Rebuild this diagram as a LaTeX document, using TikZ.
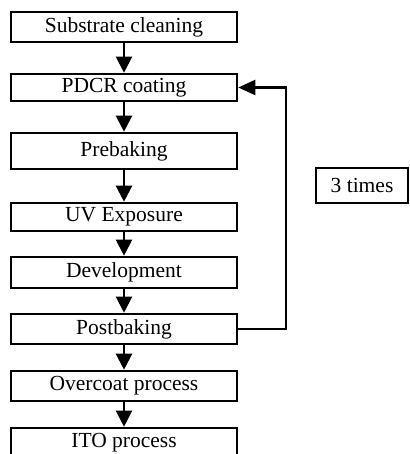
\documentclass[tikz,border=0pt]{standalone}
\usepackage{fontspec}
\setmainfont{Liberation Serif}
\usetikzlibrary{arrows.meta}
\begin{document}
\begin{tikzpicture}[x=1pt,y=-1pt,
  stepbox/.style={draw,line width=2.6pt,minimum width=226pt,inner sep=0pt,anchor=center,
    font=\fontsize{21.5}{24}\selectfont},
  flow/.style={line width=2.2pt,-{Triangle[length=16pt,width=16pt]}}]
\useasboundingbox (0,0) rectangle (409,454);
\clip (0,0) rectangle (409,454);
\node[stepbox,minimum height=30pt] (s1) at (124,27) {Substrate cleaning};
\node[stepbox,minimum height=27pt] (s2) at (124,87.5) {PDCR coating};
\node[stepbox,minimum height=36pt] (s3) at (124,151) {Prebaking};
\node[stepbox,minimum height=28pt] (s4) at (124,217) {UV Exposure};
\node[stepbox,minimum height=31pt] (s5) at (124,272.5) {Development};
\node[stepbox,minimum height=30pt] (s6) at (124,329) {Postbaking};
\node[stepbox,minimum height=30pt] (s7) at (124,386) {Overcoat process};
\node[stepbox,minimum height=30pt] (s8) at (124,443) {ITO process};
\node[draw,line width=2.6pt,minimum width=92pt,minimum height=35pt,inner sep=0pt,
  font=\fontsize{21.5}{24}\selectfont] (t) at (362,185.5) {3 times};
\draw[flow] (s1) -- (s2);
\draw[flow] (s2) -- (s3);
\draw[flow] (s3) -- (s4);
\draw[flow] (s4) -- (s5);
\draw[flow] (s5) -- (s6);
\draw[flow] (s6) -- (s7);
\draw[flow] (s7) -- (s8);
\coordinate (r) at (286,329);
\draw[line width=2.2pt,-{Triangle[length=17pt,width=15pt]}] (s6.east) -- (r) |- (s2.east);
\end{tikzpicture}
\end{document}
